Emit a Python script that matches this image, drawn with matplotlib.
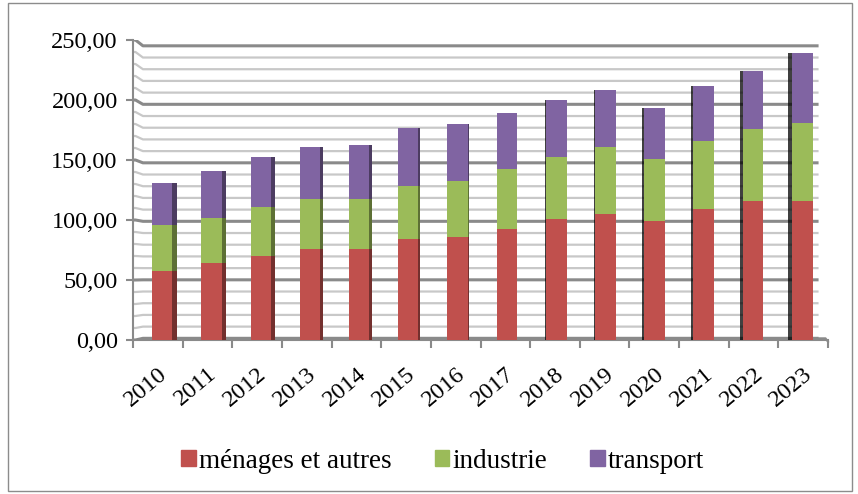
import matplotlib.pyplot as plt
from matplotlib.patches import Rectangle, Patch
import matplotlib.colors as mcolors

plt.rcParams['font.family'] = ['Liberation Serif', 'DejaVu Serif']

annees = ['2010', '2011', '2012', '2013', '2014', '2015', '2016',
          '2017', '2018', '2019', '2020', '2021', '2022', '2023']
menages = [57.8, 64.1, 70.3, 75.8, 75.8, 84.2, 86.1, 92.5, 100.8, 105.3, 98.8, 109.2, 115.8, 115.8]
industrie = [38.0, 37.2, 40.5, 41.7, 41.7, 44.1, 46.4, 50.0, 51.4, 55.2, 52.0, 56.9, 59.7, 64.7]
transport = [34.7, 39.2, 41.4, 43.0, 44.7, 48.4, 47.8, 46.4, 48.1, 48.1, 42.2, 45.8, 48.3, 58.3]
noms = ['ménages et autres', 'industrie', 'transport']
couleurs = ['#C0504D', '#9BBB59', '#8064A2']
yticks = [0, 50, 100, 150, 200, 250]

fig = plt.figure(figsize=(8.58, 4.94), dpi=100)
# cadre de la zone graphique
fig.add_artist(Rectangle((8/858, 3/494), 844/858, 488/494, transform=fig.transFigure,
                         fill=False, edgecolor='#8c8c8c', lw=1))

ax = fig.add_axes([133/858, 1-340/494, 695/858, 300/494])
ax.set_xlim(-0.5, 13.5)
ax.set_ylim(0, 250)

# quadrillage du mur du fond (effet 3D)
for v in range(0, 251, 10):
    yb = 1.4 + 0.975*v
    major = v % 50 == 0
    ax.plot([-0.5, -0.45, -0.3, 13.31], [v, v, yb, yb],
            color='#8a8a8a' if major else '#c8c8c8', lw=2.2 if major else 1.6,
            zorder=1, solid_capstyle='butt')
# coin du plancher à droite
ax.plot([13.31, 13.45, 13.5], [1.4, 1.4, -1.5], color='#8a8a8a', lw=1.5,
        clip_on=False, zorder=1)

largeur = 0.42
x = [i + 0.095 - 0.0088*i for i in range(len(annees))]
bas = [0]*len(annees)
for vals, c in zip([menages, industrie, transport], couleurs):
    ax.bar(x, vals, largeur, bottom=bas, color=c, zorder=3, linewidth=0)
    # face latérale
    for i, (xi, v, b) in enumerate(zip(x, vals, bas)):
        d = 0.0135*(7.5 - i)
        if d > 0:
            ax.add_patch(Rectangle((xi + largeur/2 - 0.01, b), d, v,
                                   color=mcolors.to_rgb(c), zorder=3, lw=0))
            ax.add_patch(Rectangle((xi + largeur/2 - 0.01, b), d, v,
                                   color='black', alpha=0.4, zorder=3, lw=0))
        else:
            ax.add_patch(Rectangle((xi - largeur/2 + d, b), -d, v,
                                   color='black', alpha=0.75, zorder=3, lw=0))
    bas = [b + v for b, v in zip(bas, vals)]

for s in ['top', 'right']:
    ax.spines[s].set_visible(False)
ax.spines['left'].set_color('#8a8a8a')
ax.spines['bottom'].set_color('#8a8a8a')
ax.spines['left'].set_linewidth(1.5)
ax.spines['bottom'].set_linewidth(1.5)

ax.set_yticks(yticks)
ax.set_yticklabels([f'{v:.2f}'.replace('.', ',') for v in yticks], fontsize=17.5)
ax.tick_params(axis='y', length=5, width=1.5, color='#8a8a8a', pad=6)

ax.set_xticks(range(len(annees)))
ax.set_xticklabels(annees, rotation=40, ha='right', rotation_mode='anchor', fontsize=17.5)
ax.tick_params(axis='x', length=0, pad=17)
ax.set_xticks([k - 0.5 for k in range(len(annees) + 1)], minor=True)
ax.tick_params(axis='x', which='minor', length=6, width=1.5, color='#8a8a8a')

handles = [Patch(color=c, label=n) for n, c in zip(noms, couleurs)]
fig.legend(handles=handles, loc='center', bbox_to_anchor=(0.516, 1-461/494), ncol=3,
           frameon=False, fontsize=19.5, handlelength=0.53, handleheight=0.53,
           handletextpad=0.12, columnspacing=1.6)

fig.savefig('out.png', dpi=100)
